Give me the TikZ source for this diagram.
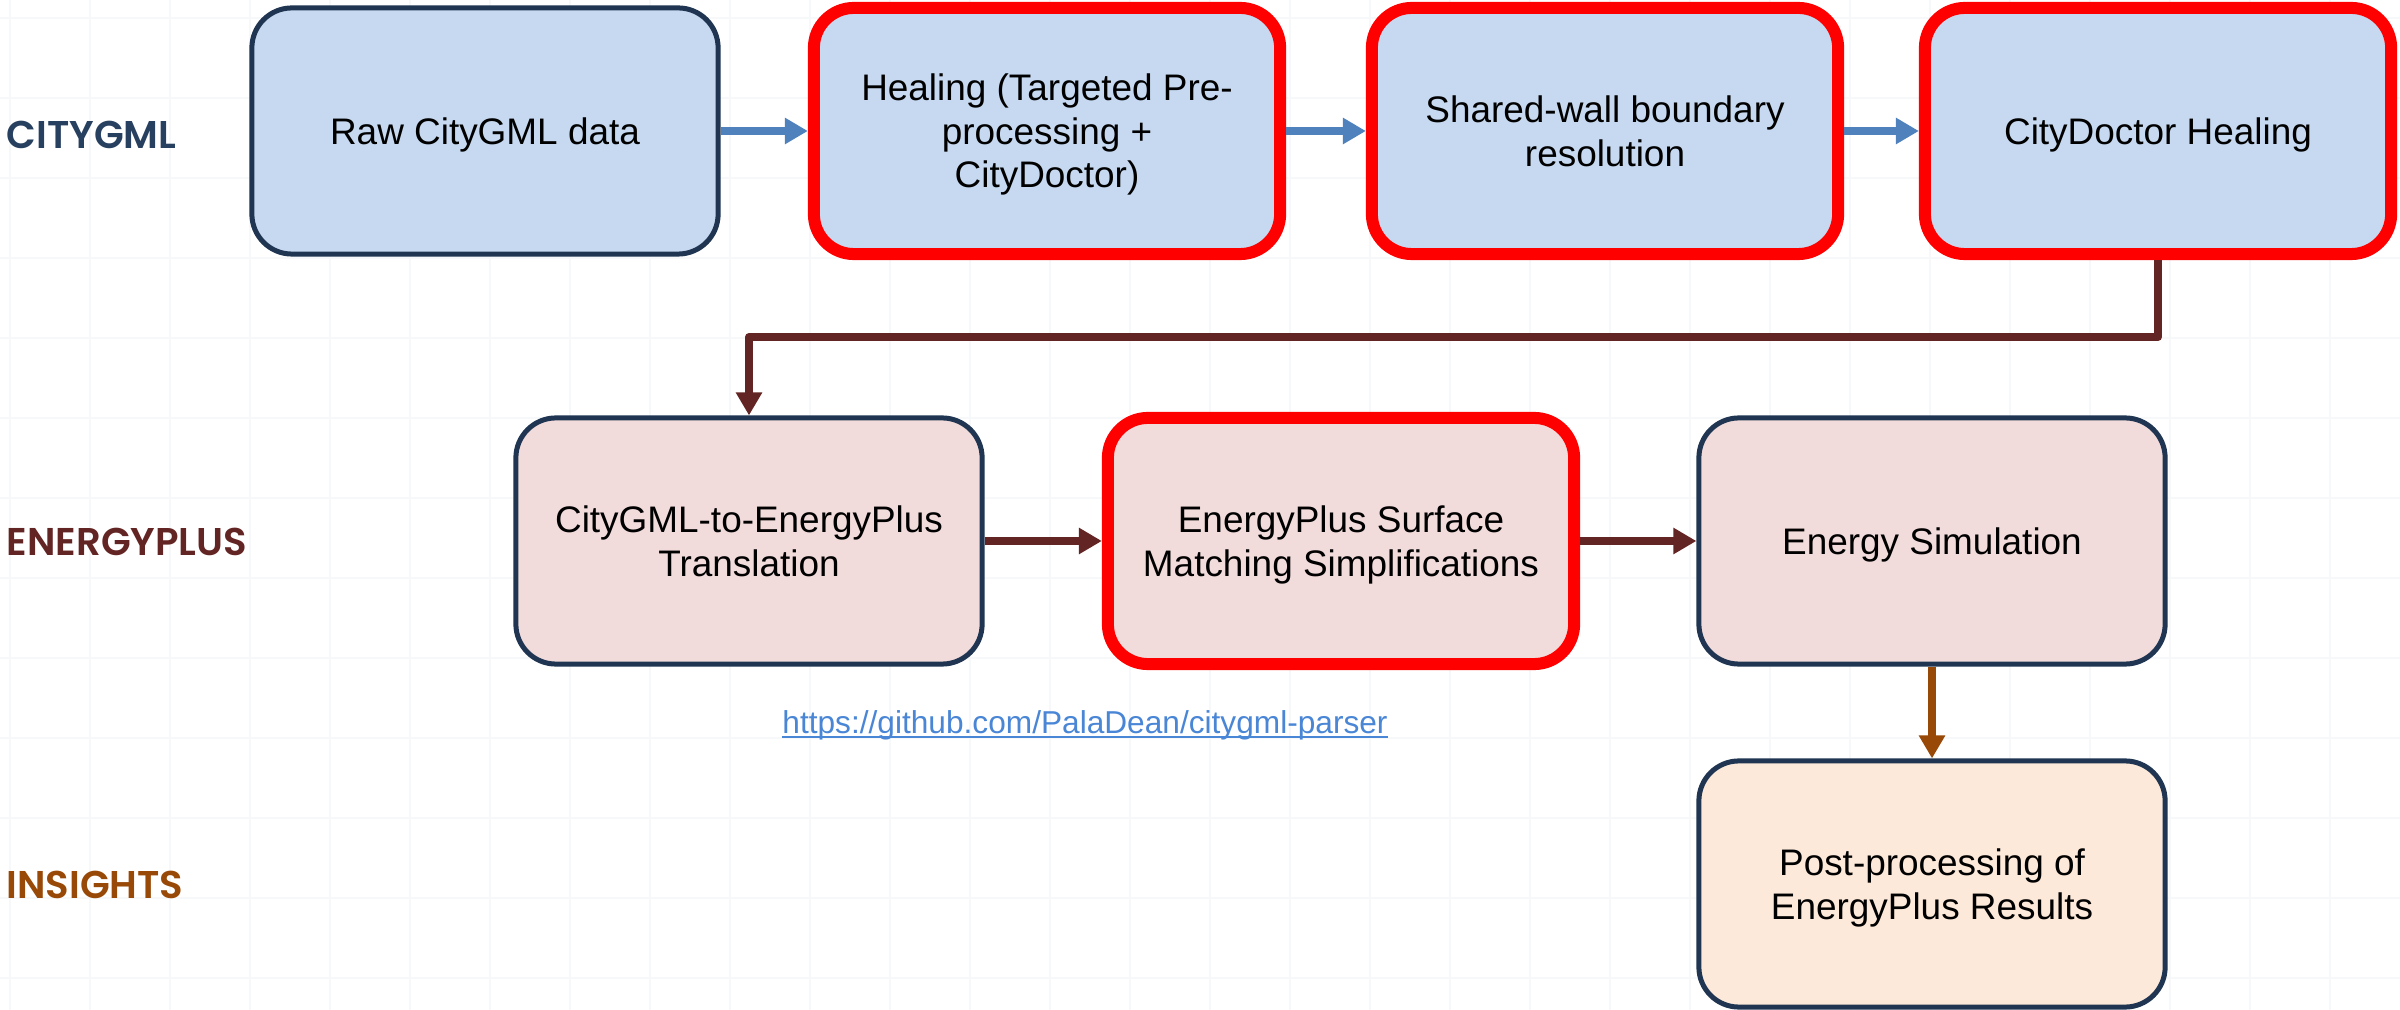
\documentclass[tikz,border=0pt]{standalone}
\usepackage{fontspec}
\setmainfont{Liberation Sans}
\newfontfamily\lanefont{Poppins SemiBold}
\usetikzlibrary{arrows.meta}

\definecolor{cityfill}{HTML}{C6D9F0}
\definecolor{epfill}{HTML}{F2DCDB}
\definecolor{insfill}{HTML}{FDE9D9}
\definecolor{navy}{HTML}{1F3552}
\definecolor{hot}{HTML}{FF0000}
\definecolor{cityarrow}{HTML}{4F81BD}
\definecolor{eparrow}{HTML}{632523}
\definecolor{insarrow}{HTML}{984807}
\definecolor{citylabel}{HTML}{27405F}
\definecolor{linkcol}{HTML}{4A86D6}
\definecolor{gridcol}{HTML}{F7F8F9}

\begin{document}
\begin{tikzpicture}[x=0.01cm, y=-0.01cm,
  stage/.style={rectangle, rounded corners=4mm, minimum width=4.66cm,
    minimum height=2.46cm, align=center, text=black, inner sep=0pt,
    text depth=0pt, font=\fontsize{10.5}{12.4}\selectfont},
  stdbox/.style={stage, draw=navy, line width=0.5mm},
  keybox/.style={stage, draw=hot, line width=1.2mm},
  lane/.style={anchor=west, inner sep=0pt, font=\lanefont\fontsize{11}{13}\selectfont},
  flow/.style={line width=0.8mm, -{Triangle[width=2.5mm,length=2.3mm]}},
]
% canvas and faint grid
\fill[white] (0,0) rectangle (2400,1010);
\useasboundingbox (0,0) rectangle (2400,1010);
\foreach \gx in {10,90,...,2330} \draw[gridcol, line width=0.2mm] (\gx,0) -- (\gx,1010);
\foreach \gy in {18,98,...,978} \draw[gridcol, line width=0.2mm] (0,\gy) -- (2400,\gy);

% lane titles
\node[lane, text=citylabel] (lcity) at (6,135) {CITYGML};
\node[lane, text=eparrow] (lep) at (6,542) {ENERGYPLUS};
\node[lane, text=insarrow] (lins) at (6,885) {INSIGHTS};

% CityGML lane
\node[stdbox, fill=cityfill] (raw) at (485,131) {Raw CityGML data};
\node[keybox, fill=cityfill] (heal) at (1047,131) {Healing (Targeted Pre-\\processing +\\CityDoctor)};
\node[keybox, fill=cityfill] (wall) at (1605,131) {Shared-wall boundary\\resolution};
\node[keybox, fill=cityfill] (cdh) at (2158,131) {CityDoctor Healing};

% EnergyPlus lane
\node[stdbox, fill=epfill] (trans) at (749,541) {CityGML-to-EnergyPlus\\Translation};
\node[keybox, fill=epfill] (match) at (1341,541) {EnergyPlus Surface\\Matching Simplifications};
\node[stdbox, fill=epfill] (sim) at (1932,541) {Energy Simulation};

% Insights lane
\node[stdbox, fill=insfill] (post) at (1932,884) {Post-processing of\\EnergyPlus Results};

% repository link
\node[anchor=base, inner sep=0pt, text=linkcol, font=\fontsize{9}{11}\selectfont] (link) at (1085,733) {https://github.com/PalaDean/citygml-parser};
\draw[linkcol, line width=0.25mm] ([yshift=-0.4mm]link.base west) -- ([yshift=-0.4mm]link.base east);

% connectors
\draw[flow, cityarrow] (raw.east) -- (heal.west);
\draw[flow, cityarrow] (heal.east) -- (wall.west);
\draw[flow, cityarrow] (wall.east) -- (cdh.west);
\coordinate (turn) at (0,337);
\draw[flow, eparrow, line join=round] (cdh.south) -- (cdh.south |- turn) -| (trans.north);
\draw[flow, eparrow] (trans.east) -- (match.west);
\draw[flow, eparrow] (match.east) -- (sim.west);
\draw[flow, insarrow] (sim.south) -- (post.north);
\end{tikzpicture}
\end{document}
